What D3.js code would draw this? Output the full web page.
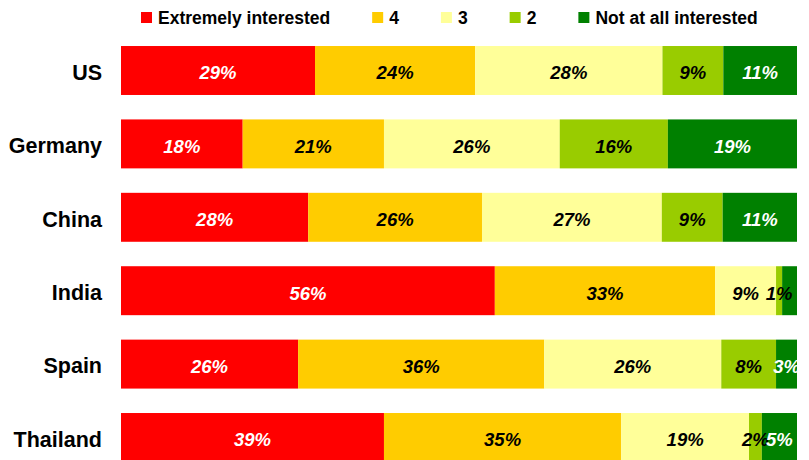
<!DOCTYPE html>
<html>
<head>
<meta charset="utf-8">
<script src="https://cdn.jsdelivr.net/npm/d3@7"></script>
<style>
  body { margin: 0; background: #fff; }
  svg text { font-family: "Liberation Sans", Arial, sans-serif; font-weight: bold; }
</style>
</head>
<body>
<svg id="chart" width="809" height="460"></svg>
<script>
// answer categories, left to right in each bar
const levels = ['Extremely interested', '4', '3', '2', 'Not at all interested'];
const colors = ['#ff0000', '#ffcc00', '#ffff99', '#99cc00', '#008000'];
const labelColors = ['#fff', '#000', '#000', '#000', '#fff'];

const countries = ['US', 'Germany', 'China', 'India', 'Spain', 'Thailand'];

// share of answers (%) per country
const us = [28.7, 23.7, 27.7, 9.0, 10.9];
const germany = [18.0, 20.9, 26.0, 16.0, 19.1];
const china = [27.7, 25.7, 26.6, 9.0, 11.0];
const india = [55.3, 32.6, 9.0, 0.9, 2.2];
const spain = [26.2, 36.4, 26.2, 8.1, 3.1];
const thailand = [38.9, 35.1, 18.9, 1.9, 5.2];

// printed labels (null = no label shown)
const usLabels = ['29%', '24%', '28%', '9%', '11%'];
const germanyLabels = ['18%', '21%', '26%', '16%', '19%'];
const chinaLabels = ['28%', '26%', '27%', '9%', '11%'];
const indiaLabels = ['56%', '33%', '9%', '1%', null];
const spainLabels = ['26%', '36%', '26%', '8%', '3%'];
const thailandLabels = ['39%', '35%', '19%', '2%', '5%'];

const values = [us, germany, china, india, spain, thailand];
const labels = [usLabels, germanyLabels, chinaLabels, indiaLabels, spainLabels, thailandLabels];

const svg = d3.select('#chart');

const x = d3.scaleLinear().domain([0, 100]).range([121, 797]);
const y = d3.scaleBand()
  .domain(countries)
  .range([33.8, 474.2])
  .paddingInner(0.333)
  .paddingOuter(0.1665);

// build segments
const segs = [];
countries.forEach(function (c, i) {
  let acc = 0;
  values[i].forEach(function (v, j) {
    segs.push({ country: c, level: j, x0: acc, x1: acc + v, label: labels[i][j] });
    acc += v;
  });
});

svg.append('g')
  .selectAll('rect')
  .data(segs)
  .join('rect')
  .attr('x', d => x(d.x0))
  .attr('y', d => y(d.country))
  .attr('width', d => x(d.x1) - x(d.x0))
  .attr('height', y.bandwidth())
  .attr('fill', d => colors[d.level]);

svg.append('g')
  .selectAll('text')
  .data(segs.filter(d => d.label))
  .join('text')
  .attr('x', d => (x(d.x0) + x(d.x1)) / 2)
  .attr('y', d => y(d.country) + y.bandwidth() / 2)
  .attr('dy', '0.48em')
  .attr('text-anchor', 'middle')
  .style('font-style', 'italic')
  .style('font-size', '18.5px')
  .attr('fill', d => labelColors[d.level])
  .text(d => d.label);

// country axis on the left, no line/ticks
const yAxis = svg.append('g')
  .attr('transform', 'translate(121,0)')
  .call(d3.axisLeft(y).tickSize(0).tickPadding(19));
yAxis.select('.domain').remove();
yAxis.selectAll('text')
  .attr('dy', '0.43em')
  .style('font-size', '21.5px')
  .style('font-family', '"Liberation Sans", Arial, sans-serif')
  .style('font-weight', 'bold')
  .attr('fill', '#000');

// legend
const legend = svg.append('g');
let lx = 141;
levels.forEach(function (name, i) {
  const item = legend.append('g').attr('transform', 'translate(' + lx + ',0)');
  item.append('rect')
    .attr('x', 0).attr('y', 12)
    .attr('width', 11).attr('height', 11)
    .attr('fill', colors[i]);
  const t = item.append('text')
    .attr('x', 17).attr('y', 24)
    .style('font-size', '17.5px')
    .attr('fill', '#000')
    .text(name);
  lx += 17 + t.node().getComputedTextLength() + 42;
});
</script>
</body>
</html>
